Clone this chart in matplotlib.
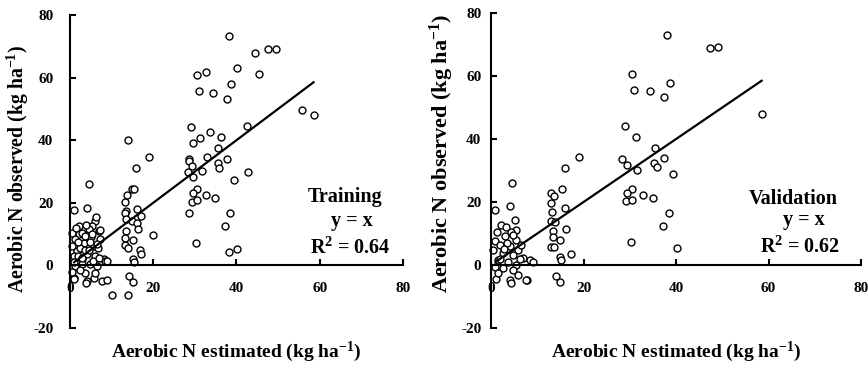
import matplotlib
matplotlib.use("Agg")
import matplotlib.pyplot as plt
import numpy as np

plt.rcParams["font.family"] = ["Liberation Serif", "DejaVu Serif"]
plt.rcParams["font.weight"] = "bold"
plt.rcParams["axes.unicode_minus"] = False
plt.rcParams["mathtext.fontset"] = "custom"
plt.rcParams["mathtext.rm"] = "Liberation Serif:bold"
plt.rcParams["mathtext.default"] = "rm"

# ------------------------------------------------------------
# data (estimated, observed)
# ------------------------------------------------------------
train_est = [
    38.1, 44.5, 47.5, 49.4, 40.2, 30.4, 32.6, 45.5, 31.0, 34.3, 38.7, 37.7, 55.7, 58.5,
    42.5, 29.1, 31.3, 29.5, 33.7, 36.4, 35.6, 28.5, 28.7, 33.0, 37.7, 35.5, 35.8, 29.3,
    31.6, 28.3, 29.6, 39.3, 42.7, 30.4, 29.5, 32.7, 34.9, 29.2, 30.4, 28.6, 38.5, 37.2,
    30.3, 38.3, 40.2, 19.1, 14.0, 15.9, 20.0,
    13.6, 13.3, 14.8, 15.5, 13.4, 13.3, 16.0, 17.1, 13.5, 14.8, 16.0, 16.4, 13.5, 13.3,
    15.1, 13.3, 13.9, 16.9, 17.1, 15.1, 15.3, 14.1, 15.1, 10.0, 13.9,
    1.0, 4.1, 4.6, 6.1, 5.3, 6.9, 2.1, 4.5, 1.3, 3.3, 0.5, 5.7, 7.3, 1.7, 4.1, 0.9,
    6.1, 8.1, 2.9, 8.5, 4.9, 1.3, 6.5, 3.7, 0.9, 5.7, 4.1, 7.7, 6.3, 2.1, 7.2, 3.0,
    5.0, 2.5, 4.8, 3.5, 6.8, 1.0, 2.0, 3.0, 5.5, 7.0, 9.0, 0.5, 2.5, 6.0, 8.8, 3.8,
    1.0, 2.0, 0.6, 3.8, 5.2, 2.8, 4.5, 6.6, 3.5, 1.5,
]
train_obs = [
    73.2, 67.7, 69.0, 69.2, 63.0, 60.8, 61.9, 61.3, 55.8, 55.2, 58.0, 53.2, 49.6, 48.1,
    44.4, 44.3, 40.8, 39.2, 42.7, 40.9, 37.4, 34.1, 33.4, 34.6, 34.1, 32.6, 31.2, 31.9,
    30.1, 29.9, 28.1, 27.4, 29.7, 24.3, 23.0, 22.4, 21.4, 20.3, 20.9, 16.8, 16.8, 12.5,
    7.3, 4.3, 5.3, 34.6, 40.0, 31.2, 9.7,
    22.4, 20.4, 24.3, 24.3, 17.5, 16.8, 18.1, 15.8, 14.7, 14.2, 13.6, 11.5, 11.0, 8.8,
    8.1, 6.4, 5.6, 4.9, 3.5, 2.1, 1.2, -3.4, -5.3, -9.5, -9.5,
    17.7, 18.4, 25.9, 14.2, 12.6, 11.0, 9.9, 11.5, 8.3, 7.2, 6.2, 6.2, 8.3, 4.6, 3.5, 3.0,
    3.0, 1.9, 1.9, 1.4, 0.3, -0.2, -0.2, -2.3, -3.9, -3.9, -5.0, -5.0, 15.5, 12.6, 11.2, 10.5,
    9.0, 5.5, 7.5, 4.8, 5.5, 1.0, 3.0, 0.5, 1.5, 2.5, 1.5, -2.0, -1.5, -2.5, -4.8, -5.5,
    -4.5, 7.5, 10.5, 13.0, 10.0, 2.5, 5.0, 7.0, 9.5, 12.0,
]

valid_est = [
    38.1, 47.4, 49.1, 30.5, 31.0, 34.4, 38.8, 37.5, 58.5, 29.0, 31.3, 35.5, 28.4, 29.3,
    31.5, 35.3, 35.8, 37.5, 39.3, 30.4, 29.3, 32.8, 35.0, 29.2, 30.5, 38.4, 37.1, 30.3,
    40.3, 19.1, 15.9, 12.9, 13.7, 13.0, 15.4, 13.2, 15.9, 12.9, 13.9, 16.2, 13.3, 13.4,
    14.9, 13.0, 13.6, 17.3, 14.9, 15.1, 14.1, 14.9, 7.7,
    0.9, 4.2, 4.6, 5.1, 2.2, 5.5, 4.4, 1.2, 3.0, 5.5, 0.8, 1.9, 4.0, 5.8, 0.4, 2.6,
    4.8, 6.9, 8.4, 9.1, 1.5, 3.7, 5.5, 0.8, 2.6, 4.8, 1.1, 4.0, 4.4, 5.8, 7.6, 3.5,
    2.0, 6.5, 1.5, 3.2, 4.8, 6.2, 2.8,
]
valid_obs = [
    73.0, 68.9, 69.1, 60.7, 55.6, 55.2, 57.7, 53.3, 48.0, 44.2, 40.6, 37.3, 33.8, 31.8,
    30.2, 32.3, 31.0, 34.0, 29.0, 24.2, 23.0, 22.1, 21.3, 20.2, 20.7, 16.6, 12.4, 7.2,
    5.3, 34.4, 30.9, 22.8, 21.9, 19.6, 24.2, 16.7, 18.0, 14.0, 13.5, 11.3, 10.7, 8.8,
    7.9, 5.8, 5.6, 3.4, 2.4, 1.5, -3.5, -5.3, -4.8,
    17.6, 18.6, 25.9, 14.4, 12.8, 11.2, 10.6, 10.6, 9.1, 8.0, 7.5, 6.4, 5.9, 4.8, 4.8, 3.7,
    3.2, 2.1, 1.6, 1.1, 1.6, 1.1, 0.0, -0.5, -1.1, -1.6, -4.3, -4.8, -5.8, -3.2, -4.8, 7.0,
    2.0, 6.5, -2.5, 12.0, 9.5, 1.8, 5.0,
]

line_x = [1.0, 58.5]
ticks_x = [0, 20, 40, 60, 80]
ticks_y = [-20, 0, 20, 40, 60, 80]


def style_axes(ax, ylab_pad):
    ax.set_xlim(0, 80)
    ax.set_ylim(-20, 80)
    ax.spines["top"].set_visible(False)
    ax.spines["right"].set_visible(False)
    ax.spines["bottom"].set_position(("data", 0))
    for s in ("left", "bottom"):
        ax.spines[s].set_linewidth(1.5)
    ax.set_xticks(ticks_x)
    ax.set_yticks(ticks_y)
    ax.tick_params(axis="x", direction="in", length=4, width=1.5, pad=12, labelsize=11)
    ax.tick_params(axis="y", direction="in", length=4, width=1.5, pad=ylab_pad, labelsize=11)
    for lab in ax.get_xticklabels() + ax.get_yticklabels():
        lab.set_fontweight("bold")
    ax.patch.set_visible(False)


fig = plt.figure(figsize=(8.68, 3.73), dpi=100)

# left panel: training
ax1 = fig.add_axes([0.0806, 0.1206, 0.3837, 0.8392])
style_axes(ax1, 12)
ax1.plot(line_x, line_x, color="black", lw=1.6, zorder=3)
ax1.plot(train_est, train_obs, "o", mfc="white", mec="black", ms=5, mew=1.0,
         clip_on=False, zorder=2)
ax1.text(66.1, 21.7, "Training", fontsize=14.5, ha="center", va="center", fontweight="bold")
ax1.text(67.8, 14.1, "y = x", fontsize=14.5, ha="center", va="center", fontweight="bold")
ax1.text(67.3, 5.4, "R$^2$ = 0.64", fontsize=14.5, ha="center", va="center", fontweight="bold")

# right panel: validation
ax2 = fig.add_axes([0.5657, 0.1206, 0.4263, 0.8445])
style_axes(ax2, 7)
ax2.plot(line_x, line_x, color="black", lw=1.6, zorder=3)
ax2.plot(valid_est, valid_obs, "o", mfc="white", mec="black", ms=5, mew=1.0,
         clip_on=False, zorder=2)
ax2.text(65.3, 20.8, "Validation", fontsize=14.5, ha="center", va="center", fontweight="bold")
ax2.text(67.7, 14.4, "y = x", fontsize=14.5, ha="center", va="center", fontweight="bold")
ax2.text(66.9, 5.8, "R$^2$ = 0.62", fontsize=14.5, ha="center", va="center", fontweight="bold")

# axis titles placed by hand like the figure
fig.text(0.2725, 0.056, "Aerobic N estimated (kg ha$^{-1}$)", fontsize=14,
         ha="center", va="center", fontweight="bold")
fig.text(0.779, 0.056, "Aerobic N estimated (kg ha$^{-1}$)", fontsize=14,
         ha="center", va="center", fontweight="bold")
fig.text(0.021, 0.2145, "Aerobic N observed (kg ha$^{-1}$)", fontsize=14.2,
         ha="center", va="bottom", rotation=90, fontweight="bold")
fig.text(0.509, 0.2145, "Aerobic N observed (kg ha$^{-1}$)", fontsize=16,
         ha="center", va="bottom", rotation=90, fontweight="bold")

fig.savefig("out.png", dpi=100)
